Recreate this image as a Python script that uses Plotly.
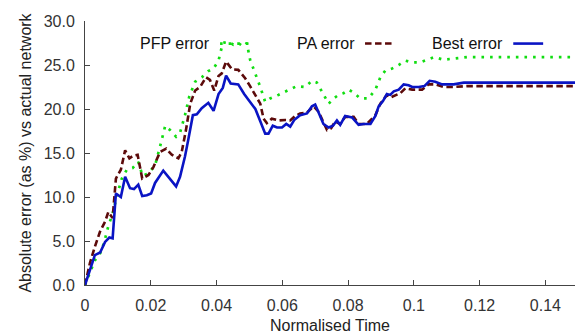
import plotly.graph_objects as go

# ---- data ----
best_x = [0, 0.0015, 0.003, 0.0046, 0.0061, 0.0074, 0.0084, 0.0094, 0.0109, 0.0122, 0.0137, 0.0149,
          0.0162, 0.0174, 0.0188, 0.0201, 0.0213, 0.0238, 0.0259, 0.0277, 0.0289, 0.0304, 0.0314,
          0.0328, 0.034, 0.0355, 0.0375, 0.0391, 0.0406, 0.0419, 0.0429, 0.0443, 0.0466, 0.0484,
          0.0502, 0.0518, 0.0533, 0.0548, 0.0558, 0.0571, 0.0584, 0.0599, 0.0612, 0.0624, 0.0636,
          0.0654, 0.0675, 0.069, 0.07, 0.071, 0.0725, 0.0741, 0.0754, 0.0766, 0.0776, 0.0791,
          0.0812, 0.0832, 0.0847, 0.0868, 0.0883, 0.0893, 0.0906, 0.0918, 0.0928, 0.0939, 0.0954,
          0.0969, 0.0984, 0.0995, 0.1015, 0.1032, 0.1048, 0.1065, 0.1086, 0.1121, 0.1152, 0.149]
best_y = [0, 1.7, 3.4, 3.7, 4.9, 5.4, 5.3, 10.4, 10.0, 12.3, 11.0, 10.9,
          11.4, 10.1, 10.2, 10.4, 11.6, 13.0, 12.1, 11.2, 12.3, 14.6, 16.5,
          19.3, 19.4, 20.1, 20.7, 19.8, 21.7, 22.4, 23.8, 22.9, 22.8, 21.7,
          20.8, 20.0, 18.6, 17.2, 17.2, 18.1, 17.9, 17.9, 18.3, 18.0, 18.75,
          19.3, 19.5, 20.3, 20.5, 19.6, 18.3, 17.9, 18.1, 18.7, 18.2, 19.2,
          19.05, 18.2, 18.3, 18.3, 19.2, 20.3, 20.9, 21.7, 21.6, 22.0, 22.2,
          22.8, 22.7, 22.5, 22.5, 22.6, 23.2, 23.1, 22.8, 22.8, 23.0, 23.0]

pa_x = [0, 0.0015, 0.003, 0.0046, 0.0061, 0.0071, 0.0084, 0.0094, 0.0109, 0.0122, 0.0135, 0.0147,
        0.016, 0.0174, 0.0193, 0.0208, 0.0228, 0.0247, 0.0264, 0.0284, 0.0294, 0.0307, 0.032,
        0.0335, 0.035, 0.0368, 0.038, 0.0393, 0.0406, 0.0416, 0.0429, 0.0447, 0.0466, 0.0487,
        0.0502, 0.0518, 0.0533, 0.0543, 0.0553, 0.0568, 0.0588, 0.0609, 0.0624, 0.0639, 0.0654,
        0.0675, 0.0695, 0.071, 0.0725, 0.0736, 0.0748, 0.0761, 0.0776, 0.0791, 0.0817, 0.0832,
        0.0857, 0.0883, 0.0898, 0.0918, 0.0928, 0.0944, 0.0959, 0.0974, 0.0995, 0.1025, 0.1045,
        0.1065, 0.109, 0.1121, 0.1162, 0.149]
pa_y = [0, 2.5, 4.35, 6.1, 7.2, 8.3, 7.6, 12.1, 13.1, 15.3, 14.4, 14.7,
        14.8, 12.1, 12.5, 13.4, 15.1, 15.5, 14.8, 14.4, 15.1, 17.6, 20.6,
        22.1, 22.5, 23.6, 23.3, 22.1, 23.75, 24.05, 25.4, 24.5, 24.45, 23.5,
        22.6, 21.6, 20.6, 18.9, 18.4, 18.9, 18.7, 18.75, 18.7, 19.2, 19.5,
        19.6, 20.3, 19.7, 18.4, 17.6, 17.8, 18.6, 18.3, 19.1, 19.1, 18.3,
        18.3, 19.3, 20.6, 21.6, 21.3, 21.6, 21.8, 22.35, 22.2, 22.2, 22.8,
        22.8, 22.5, 22.5, 22.6, 22.6]

pfp_x = [0, 0.0015, 0.003, 0.0046, 0.0058, 0.0071, 0.0084, 0.0096, 0.0112, 0.0127, 0.0145, 0.0162,
         0.0175, 0.0193, 0.0213, 0.0228, 0.0244, 0.0259, 0.0277, 0.0289, 0.0304, 0.0317, 0.0335,
         0.0355, 0.0375, 0.0391, 0.0406, 0.0419, 0.0436, 0.0451, 0.0466, 0.0481, 0.0492, 0.0502,
         0.0518, 0.0533, 0.0548, 0.0563, 0.0588, 0.0614, 0.0644, 0.067, 0.069, 0.0705, 0.072,
         0.0741, 0.0756, 0.0771, 0.0786, 0.0802, 0.0817, 0.0837, 0.0862, 0.0883, 0.0898, 0.0913,
         0.0934, 0.0954, 0.0974, 0.0995, 0.102, 0.104, 0.1062, 0.109, 0.1121, 0.1162, 0.149]
pfp_y = [0, 1.3, 2.8, 3.6, 4.8, 6.7, 8.1, 10.0, 12.1, 13.1, 13.3, 14.0,
         12.4, 12.7, 13.6, 15.7, 18.1, 17.6, 16.85, 17.3, 19.3, 21.4, 23.1,
         23.6, 24.3, 24.6, 25.5, 27.5, 27.65, 27.3, 27.5, 27.1, 27.5, 25.6,
         24.05, 22.5, 20.8, 21.2, 21.6, 22.1, 22.6, 22.5, 23.2, 23.0, 22.0,
         20.6, 21.2, 21.6, 21.8, 22.2, 21.85, 21.2, 21.2, 22.2, 23.6, 24.35,
         24.6, 25.0, 25.5, 25.3, 25.3, 25.6, 25.9, 25.6, 25.75, 25.9, 25.9]

series_names = ["PFP error", "PA error", "Best error"]
x_ticks = [0, 0.02, 0.04, 0.06, 0.08, 0.1, 0.12, 0.14]
y_ticks = [0, 5, 10, 15, 20, 25, 30]

GREEN = "#11dd11"
RED = "#5c0a0a"
BLUE = "#0a14c4"
FONT = "Liberation Sans, Arial, sans-serif"
DOT = "2.6px,6px"
DASH = "6.5px,3.5px"

fig = go.Figure()
fig.add_trace(go.Scatter(x=pfp_x, y=pfp_y, mode="lines", name=series_names[0],
                         line=dict(color=GREEN, width=2.7, dash=DOT)))
fig.add_trace(go.Scatter(x=pa_x, y=pa_y, mode="lines", name=series_names[1],
                         line=dict(color=RED, width=2.6, dash=DASH)))
fig.add_trace(go.Scatter(x=best_x, y=best_y, mode="lines", name=series_names[2],
                         line=dict(color=BLUE, width=2.6)))

# legend: text then sample line (like gnuplot key)
legend_text_right = [0.2586, 0.5545, 0.857]
legend_y = 0.9145
styles = [dict(color=GREEN, width=2.7, dash=DOT),
          dict(color=RED, width=2.6, dash=DASH),
          dict(color=BLUE, width=2.6)]
for name, xr, st in zip(series_names, legend_text_right, styles):
    fig.add_annotation(x=xr, y=legend_y, xref="paper", yref="paper", text=name,
                       showarrow=False, xanchor="right", yanchor="middle",
                       font=dict(family=FONT, size=16, color="#111"))
    fig.add_shape(type="line", xref="paper", yref="paper",
                  x0=xr + 0.017, x1=xr + 0.078, y0=legend_y, y1=legend_y, line=st)

fig.update_layout(
    width=575, height=334,
    margin=dict(l=85, r=0, t=21, b=49),
    paper_bgcolor="white", plot_bgcolor="white",
    showlegend=False,
    font=dict(family=FONT, size=16, color="#222"),
)
fig.update_xaxes(range=[0, 0.149], tickvals=x_ticks,
                 ticktext=[("%g" % v) for v in x_ticks],
                 ticks="inside", ticklen=5, tickcolor="#444",
                 showline=True, linecolor="#444", linewidth=1, showgrid=False, zeroline=False,
                 tickfont=dict(size=16, color="#333"), ticklabelstandoff=6,
                 title=dict(text="Normalised Time", font=dict(size=16, color="#222"), standoff=6))
fig.update_yaxes(range=[0, 30], tickvals=y_ticks,
                 ticktext=[("%.1f" % v) for v in y_ticks],
                 ticks="inside", ticklen=5, tickcolor="#444",
                 showline=True, linecolor="#444", linewidth=1, showgrid=False, zeroline=False,
                 tickfont=dict(size=16, color="#333"), ticklabelstandoff=6,
                 title=dict(text="Absolute error (as %) vs actual network",
                            font=dict(size=16, color="#222"), standoff=8))

fig.write_html("out.html")
